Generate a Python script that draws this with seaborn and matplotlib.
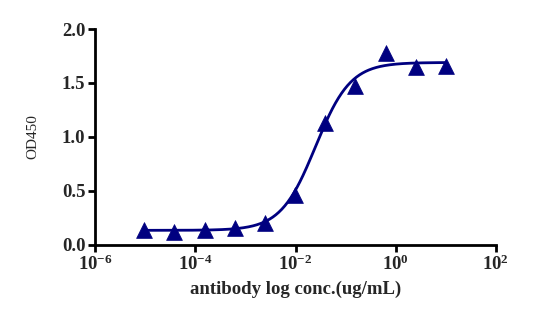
import numpy as np
import pandas as pd
import matplotlib
matplotlib.use("Agg")
import matplotlib.pyplot as plt
import seaborn as sns
from matplotlib.ticker import FixedLocator

# data
conc = [9.54e-6, 3.81e-5, 1.53e-4, 6.10e-4, 2.44e-3, 9.77e-3, 3.91e-2, 0.156, 0.625, 2.5, 10.0]
od450 = [0.14, 0.12, 0.14, 0.16, 0.20, 0.46, 1.13, 1.47, 1.78, 1.65, 1.66]

# 4PL fit parameters (estimated from the drawn curve)
fit_bottom = 0.135
fit_top = 1.69
fit_logec50 = -1.6
fit_hill = 1.25

sns.set_theme(style="ticks")
plt.rcParams['font.family'] = ['Liberation Serif', 'DejaVu Serif']
plt.rcParams['mathtext.fontset'] = 'custom'
plt.rcParams['mathtext.bf'] = 'Liberation Serif:bold'
plt.rcParams['mathtext.rm'] = 'Liberation Serif'

fig = plt.figure(figsize=(5.56, 3.12), dpi=100)
ax = fig.add_axes([0.171, 0.215, 0.721, 0.692])

df = pd.DataFrame({"conc": conc, "od": od450})
xs = np.logspace(np.log10(conc[0]), np.log10(conc[-1]), 400)
ys = fit_bottom + (fit_top - fit_bottom) / (1 + 10 ** ((fit_logec50 - np.log10(xs)) * fit_hill))
curve = pd.DataFrame({"conc": xs, "od": ys})

navy = "#000080"
sns.lineplot(data=curve, x="conc", y="od", ax=ax, color=navy, lw=2, zorder=2)
sns.scatterplot(data=df, x="conc", y="od", ax=ax, marker="^", s=130, color=navy,
                edgecolor=navy, linewidth=0.5, zorder=3)

ax.set_xscale("log")
ax.set_xlim(1e-6, 1e2)
ax.set_ylim(0, 2.0)
ax.xaxis.set_major_locator(FixedLocator([1e-6, 1e-4, 1e-2, 1e0, 1e2]))
ax.xaxis.set_minor_locator(FixedLocator([]))
ax.set_xticklabels([r"$\mathbf{10^{-6}}$", r"$\mathbf{10^{-4}}$", r"$\mathbf{10^{-2}}$",
                    r"$\mathbf{10^{0}}$", r"$\mathbf{10^{2}}$"])
ax.set_yticks([0, 0.5, 1.0, 1.5, 2.0])
ax.set_yticklabels(["0.0", "0.5", "1.0", "1.5", "2.0"])

for s in ["top", "right"]:
    ax.spines[s].set_visible(False)
for s in ["left", "bottom"]:
    ax.spines[s].set_linewidth(2)
    ax.spines[s].set_color("black")
ax.tick_params(axis="both", which="major", length=5, width=2, color="black",
               labelsize=13.5, pad=2)
for lab in ax.get_xticklabels() + ax.get_yticklabels():
    lab.set_fontweight("bold")

ax.set_xlabel("antibody log conc.(ug/mL)", fontsize=13.5, fontweight="bold", labelpad=5)
ax.set_ylabel("OD450", fontsize=11, labelpad=16)

fig.savefig("out.png", dpi=100)
